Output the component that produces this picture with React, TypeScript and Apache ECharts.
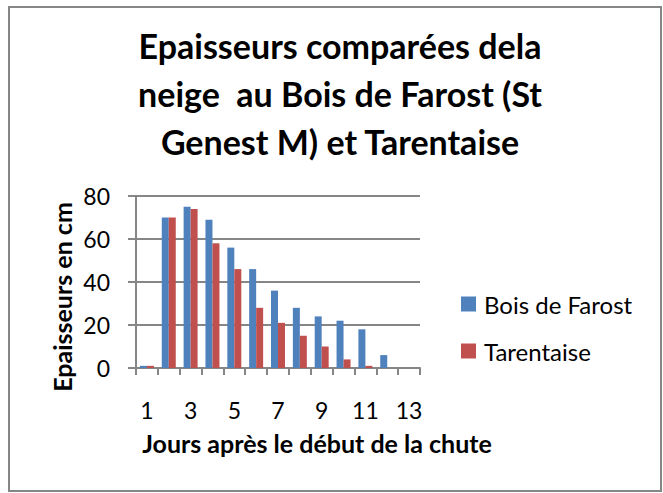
import React, { useEffect, useRef } from "react";
import * as echarts from "echarts";

const categories = ["1", "2", "3", "4", "5", "6", "7", "8", "9", "10", "11", "12", "13"];
const boisDeFarost = [1, 70, 75, 69, 56, 46, 36, 28, 24, 22, 18, 6, 0];
const tarentaise = [1, 70, 74, 58, 46, 28, 21, 15, 10, 4, 1, 0, 0];
const seriesNames = ["Bois de Farost", "Tarentaise"];
const titleText = "Epaisseurs comparées dela\nneige  au Bois de Farost (St\nGenest M) et Tarentaise";
const yAxisTitle = "Epaisseurs en cm";
const xAxisTitle = "Jours après le début de la chute";

const FONT = "Lato, 'Liberation Sans', sans-serif";
const GRAY = "#868686";

export default function App() {
  const ref = useRef<HTMLDivElement>(null);
  useEffect(() => {
    if (!ref.current) return;
    const chart = echarts.init(ref.current, null, { renderer: "svg" });
    chart.setOption({
      animation: false,
      backgroundColor: "#ffffff",
      textStyle: { fontFamily: FONT },
      title: {
        text: titleText,
        left: 335,
        textAlign: "center",
        top: 16,
        textStyle: {
          fontFamily: FONT,
          fontWeight: "bold",
          fontSize: 34,
          lineHeight: 48,
          color: "#000",
        },
      },
      graphic: [
        {
          type: "rect",
          shape: { x: 9, y: 7, width: 652, height: 484 },
          style: { fill: "none", stroke: GRAY, lineWidth: 2 },
          silent: true,
        },
        {
          type: "text",
          x: 317,
          y: 443,
          silent: true,
          style: {
            text: xAxisTitle,
            fontFamily: FONT,
            fontWeight: "bold",
            fontSize: 25,
            fill: "#000",
            align: "center",
            verticalAlign: "middle",
          },
        },
        {
          type: "text",
          x: 62,
          y: 297,
          rotation: Math.PI / 2,
          silent: true,
          style: {
            text: yAxisTitle,
            fontFamily: FONT,
            fontWeight: "bold",
            fontSize: 25,
            fill: "#000",
            align: "center",
            verticalAlign: "middle",
          },
        },
      ],
      legend: {
        orient: "vertical",
        left: 461,
        top: 292,
        padding: 0,
        itemWidth: 15,
        itemHeight: 15,
        itemGap: 23,
        icon: "rect",
        data: seriesNames,
        textStyle: { fontFamily: FONT, fontSize: 24, color: "#000", padding: [0, 0, 0, 3] },
      },
      grid: { left: 136, top: 196, width: 284, height: 172, containLabel: false },
      xAxis: {
        type: "category",
        data: categories,
        boundaryGap: true,
        axisLine: { show: true, lineStyle: { color: GRAY, width: 2 } },
        axisTick: { show: true, interval: 0, length: 7, lineStyle: { color: GRAY, width: 2 } },
        axisLabel: { interval: 1, margin: 30, fontFamily: FONT, fontSize: 23, color: "#000" },
        splitLine: { show: false },
      },
      yAxis: {
        type: "value",
        min: 0,
        max: 80,
        interval: 20,
        axisLine: { show: true, lineStyle: { color: GRAY, width: 2 } },
        axisTick: { show: true, inside: false, length: 8, lineStyle: { color: GRAY, width: 2 } },
        axisLabel: { margin: 26, fontFamily: FONT, fontSize: 23, color: "#000" },
        splitLine: { show: true, lineStyle: { color: GRAY, width: 2 } },
      },
      series: [
        {
          name: seriesNames[0],
          type: "bar",
          data: boisDeFarost,
          itemStyle: { color: "#4F81BD" },
          barGap: "0%",
          barCategoryGap: "36%",
        },
        {
          name: seriesNames[1],
          type: "bar",
          data: tarentaise,
          itemStyle: { color: "#C0504D" },
          barGap: "0%",
          barCategoryGap: "36%",
        },
      ],
    });
    return () => chart.dispose();
  }, []);
  return (
    <div
      ref={ref}
      style={{ position: "fixed", left: 0, top: 0, width: 663, height: 493 }}
    />
  );
}
